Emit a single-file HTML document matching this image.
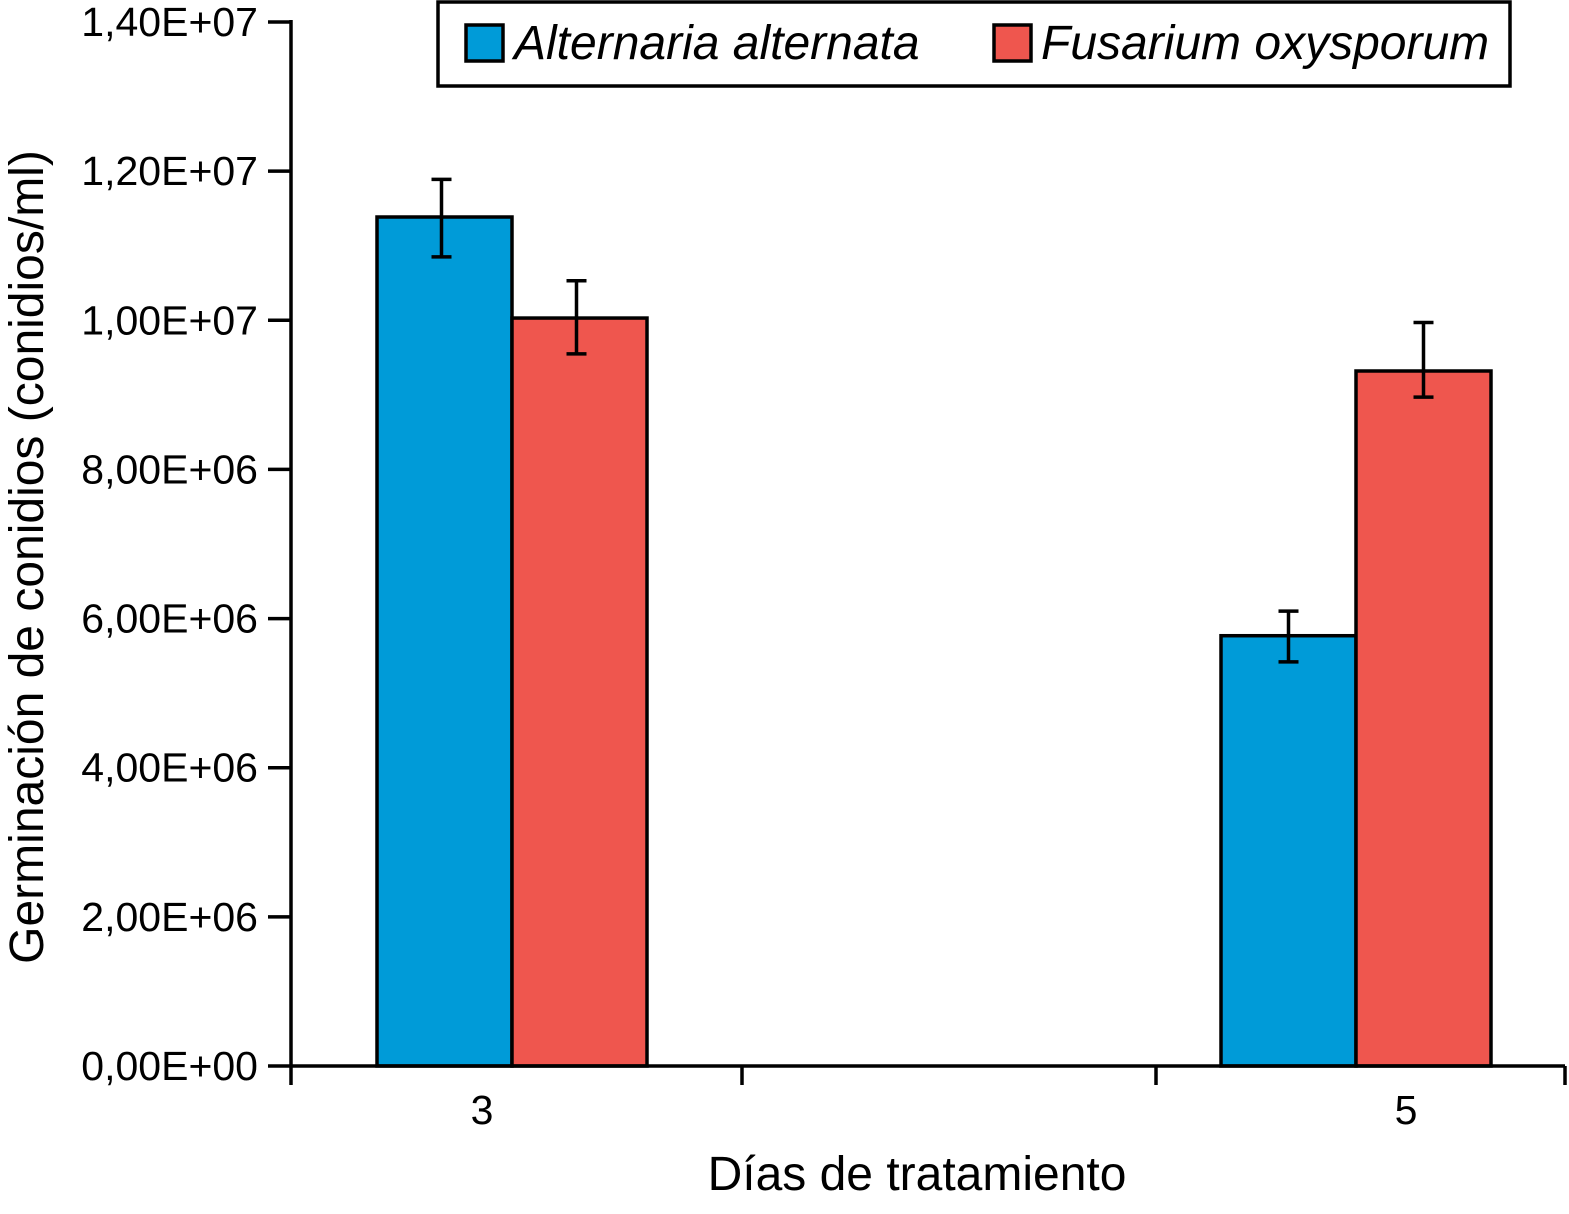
<!DOCTYPE html>
<html><head><meta charset="utf-8"><style>
html,body{margin:0;padding:0;background:#fff;}
svg{display:block;font-family:"Liberation Sans",Arial,sans-serif;}
</style></head><body>
<svg id="chart" width="1569" height="1214" viewBox="0 0 1569 1214">
<g id="plot"></g>
<g>
<rect x="438" y="2" width="1072" height="84" fill="#fff" stroke="#000" stroke-width="3.5"/>
<rect x="466" y="25" width="37" height="36" fill="#009BD8" stroke="#000" stroke-width="3.5"/>
<text x="514" y="59" font-size="48" font-style="italic">Alternaria alternata</text>
<rect x="994" y="25" width="37" height="36" fill="#EF564E" stroke="#000" stroke-width="3.5"/>
<text x="1041" y="59" font-size="48" font-style="italic">Fusarium oxysporum</text>
</g>
<text transform="translate(43,557) rotate(-90)" text-anchor="middle" font-size="48">Germinación de conidios (conidios/ml)</text>
<text x="917" y="1190" text-anchor="middle" font-size="48">Días de tratamiento</text>
</svg>
<script>
const categories = ["3", "5"];
const alternaria = [1.1385e7, 5.77e6];
const alternariaHigh = [1.189e7, 6.10e6];
const alternariaLow = [1.085e7, 5.42e6];
const fusarium = [1.003e7, 9.32e6];
const fusariumHigh = [1.053e7, 9.97e6];
const fusariumLow = [0.955e7, 8.97e6];
const yTicks = [0, 2e6, 4e6, 6e6, 8e6, 1e7, 1.2e7, 1.4e7];
const yTickLabels = ["0,00E+00","2,00E+06","4,00E+06","6,00E+06","8,00E+06","1,00E+07","1,20E+07","1,40E+07"];

const NS = "http://www.w3.org/2000/svg";
const g = document.getElementById("plot");
const X0 = 291, Y0 = 1066, YTOP = 22, XEND = 1565;
function y(v){ return Y0 - v / 1.4e7 * (Y0 - YTOP); }
const groupCenters = [512, 1356];
function xc(i){ return groupCenters[i]; }
const BW = 135;
function el(tag, attrs){ const e = document.createElementNS(NS, tag); for (const k in attrs) e.setAttribute(k, attrs[k]); g.appendChild(e); return e; }

categories.forEach((c, i) => {
  const series = [[alternaria, alternariaHigh, alternariaLow, "#009BD8", "alternaria"], [fusarium, fusariumHigh, fusariumLow, "#EF564E", "fusarium"]];
  series.forEach((s, j) => {
    const v = s[0][i], hi = s[1][i], lo = s[2][i];
    const bx = xc(i) - BW + j * BW;
    const r = el("rect", {x: bx, y: y(v), width: BW, height: Y0 - y(v), fill: s[3], stroke: "#000", "stroke-width": 3.5});
    
    
    const ex = bx + BW / 2 - (i === 0 ? 3 : 0);
    const eb = el("path", {d: `M${ex},${y(hi)}V${y(lo)}M${ex-10},${y(hi)}H${ex+10}M${ex-10},${y(lo)}H${ex+10}`, stroke: "#000", "stroke-width": 3.5, fill: "none"});
    
    
  });
});

const ya = el("line", {x1: X0, y1: YTOP - 2, x2: X0, y2: Y0, stroke: "#000", "stroke-width": 3.5});


yTicks.forEach((t, k) => {
  const tl = el("line", {x1: X0 - 23, y1: y(t), x2: X0, y2: y(t), stroke: "#000", "stroke-width": 3.5});
  
  
  const tx = el("text", {x: 258, y: y(t) + 14, "text-anchor": "end", "font-size": 41});
  tx.textContent = yTickLabels[k];
  
  
});
const xa = el("line", {x1: X0, y1: Y0, x2: XEND, y2: Y0, stroke: "#000", "stroke-width": 3.5});


[291, 742, 1156, 1565].forEach(px => {
  const tl = el("line", {x1: px, y1: Y0, x2: px, y2: Y0 + 19, stroke: "#000", "stroke-width": 3.5});
  
  
});
const labelShift = [-30, 50];
categories.forEach((c, i) => {
  const tx = el("text", {x: xc(i) + labelShift[i], y: 1124, "text-anchor": "middle", "font-size": 41});
  tx.textContent = c;
  
  
});
</script>
</body></html>
